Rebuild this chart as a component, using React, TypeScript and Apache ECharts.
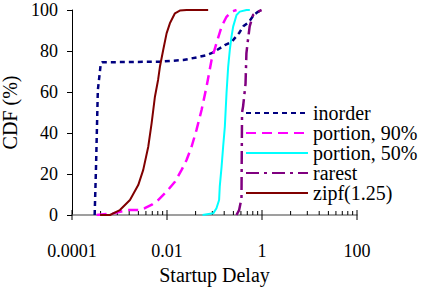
import React, { useEffect, useRef } from "react";
import * as echarts from "echarts";

const seriesNames = ["inorder", "portion, 90%", "portion, 50%", "rarest", "zipf(1.25)"];
const seriesColors = ["#000080", "#FF00FF", "#00FFFF", "#800080", "#800000"];

const inorder: [number, number][] = [
  [3.0e-4, 0], [3.2e-4, 23], [3.5e-4, 61], [4.0e-4, 73], [4.3e-4, 74.5], [7e-3, 74.8],
  [0.022, 75.6], [0.045, 77], [0.069, 78], [0.092, 79.2], [0.165, 82.9], [0.23, 84.5],
  [0.33, 88.8], [0.41, 92.2], [0.53, 94.1], [0.67, 97.6], [0.81, 99], [0.98, 100],
];
const portion90: [number, number][] = [
  [3.3e-4, 0], [7.3e-4, 0.8], [1.5e-3, 2.4], [2.7e-3, 2.4], [3.4e-3, 3.3], [4.7e-3, 4.9],
  [6.5e-3, 7.3], [9.8e-3, 11.4], [0.0147, 16.2], [0.0203, 22], [0.0258, 26.8], [0.0329, 33.3],
  [0.0418, 41.5], [0.0534, 51.2], [0.068, 62.6], [0.0867, 75.6], [0.11, 83.8], [0.141, 91.9],
  [0.179, 96.7], [0.228, 99.2], [0.291, 100],
];
const portion50: [number, number][] = [
  [0.056, 0], [0.094, 0.8], [0.11, 3.3], [0.125, 7.3], [0.129, 13.8], [0.141, 23.6],
  [0.152, 33.3], [0.165, 43], [0.179, 59.4], [0.194, 72.3], [0.21, 80.5], [0.228, 87],
  [0.247, 91.9], [0.291, 97.6], [0.341, 99.2], [0.472, 100], [0.554, 100],
];
const rarest: [number, number][] = [
  [0.29, 0], [0.33, 2.4], [0.37, 8], [0.375, 30], [0.38, 50], [0.4, 53], [0.45, 64],
  [0.47, 79], [0.51, 86], [0.55, 92], [0.6, 95], [0.65, 97.6], [0.71, 98.4], [0.83, 99.2],
  [0.98, 100],
];
const zipf: [number, number][] = [
  [3.9e-4, 0], [6.3e-4, 0], [1.02e-3, 2.4], [1.66e-3, 7.3], [2.48e-3, 14.6], [3.16e-3, 22],
  [4.03e-3, 33.3], [4.74e-3, 44.7], [5.57e-3, 57.7], [6.5e-3, 66], [7.09e-3, 72.3],
  [8.32e-3, 80.5], [9.8e-3, 88.6], [0.0115, 93.5], [0.0147, 98.4], [0.0186, 99.7],
  [0.0258, 100], [0.0735, 100],
];

const xMajorTicks = [1e-4, 1e-2, 1, 100];
const xTickLabels = ["0.0001", "0.01", "1", "100"];
const xMinorTicks = [
  4e-4, 9e-4, 1.6e-3, 2.5e-3, 3.6e-3, 4.9e-3, 6.4e-3, 8.1e-3,
  0.04, 0.09, 0.16, 0.25, 0.36, 0.49, 0.64, 0.81,
  4, 9, 16, 25, 36, 49, 64, 81,
];

const FONT = "'Liberation Serif', 'Times New Roman', serif";

export default function App() {
  const ref = useRef<HTMLDivElement>(null);
  useEffect(() => {
    if (!ref.current) return;
    const chart = echarts.init(ref.current, undefined, { renderer: "svg" });
    const lineTypes: any[] = [[5, 4], [10, 6], "solid", [13, 5, 3, 5], "solid"];
    const widths = [2.5, 2.5, 2, 2.5, 2];
    const datasets = [inorder, portion90, portion50, rarest, zipf];
    const lineSeries = seriesNames.map((name, i) => ({
      name,
      type: "line",
      data: datasets[i],
      symbol: "none",
      showSymbol: false,
      z: 3,
      lineStyle: { color: seriesColors[i], width: widths[i], type: lineTypes[i] },
      itemStyle: { color: seriesColors[i] },
    }));
    const tickData = [
      ...xMajorTicks.map((v) => [v, 0, 1]),
      ...xMinorTicks.map((v) => [v, 0, 0]),
    ];
    chart.setOption({
      animation: false,
      grid: { left: 72, top: 10, right: 66, bottom: 72, containLabel: false, outerBoundsMode: "none" },
      legend: {
        data: seriesNames,
        orient: "vertical",
        left: 240,
        top: 98,
        itemWidth: 62,
        itemHeight: 14,
        itemGap: 0,
        itemStyle: { opacity: 0 },
        lineStyle: { opacity: 1 },
        textStyle: { fontFamily: FONT, fontSize: 20, color: "#000", lineHeight: 19.8 },
      },
      xAxis: {
        type: "log",
        logBase: 100,
        min: 1e-4,
        max: 100,
        name: "Startup Delay",
        nameLocation: "middle",
        nameGap: 48,
        nameTextStyle: { fontFamily: FONT, fontSize: 20, color: "#000" },
        axisLine: { show: true, lineStyle: { color: "#808080", width: 1.5 } },
        axisTick: { show: false },
        splitLine: { show: false },
        axisLabel: {
          margin: 27,
          fontFamily: FONT,
          fontSize: 18,
          color: "#000",
          formatter: (v: number) => {
            const idx = xMajorTicks.findIndex((m) => Math.abs(Math.log10(m) - Math.log10(v)) < 1e-6);
            return idx >= 0 ? xTickLabels[idx] : "";
          },
        },
      },
      yAxis: {
        type: "value",
        min: 0,
        max: 100,
        interval: 20,
        name: "CDF (%)",
        nameLocation: "middle",
        nameGap: 41,
        nameTextStyle: { fontFamily: FONT, fontSize: 20, color: "#000" },
        axisLine: { show: true, lineStyle: { color: "#000", width: 1 } },
        axisTick: { show: true, length: 5, lineStyle: { color: "#000" } },
        splitLine: { show: false },
        axisLabel: { margin: 14, fontFamily: FONT, fontSize: 18, color: "#000" },
      },
      series: [
        ...lineSeries,
        {
          type: "custom",
          name: "ticks",
          silent: true,
          clip: false,
          z: 2,
          data: tickData,
          renderItem: (params: any, api: any) => {
            const p = api.coord([api.value(0), 0]);
            const major = api.value(2) === 1;
            return {
              type: "line",
              shape: { x1: p[0], y1: p[1] - (major ? 5 : 4), x2: p[0], y2: p[1] + (major ? 5 : 0) },
              style: { stroke: "#000", lineWidth: 1 },
            };
          },
        },
      ],
    });
    return () => chart.dispose();
  }, []);
  return (
    <div
      ref={ref}
      style={{ position: "fixed", left: 0, top: 0, width: 423, height: 287, background: "#fff" }}
    />
  );
}
